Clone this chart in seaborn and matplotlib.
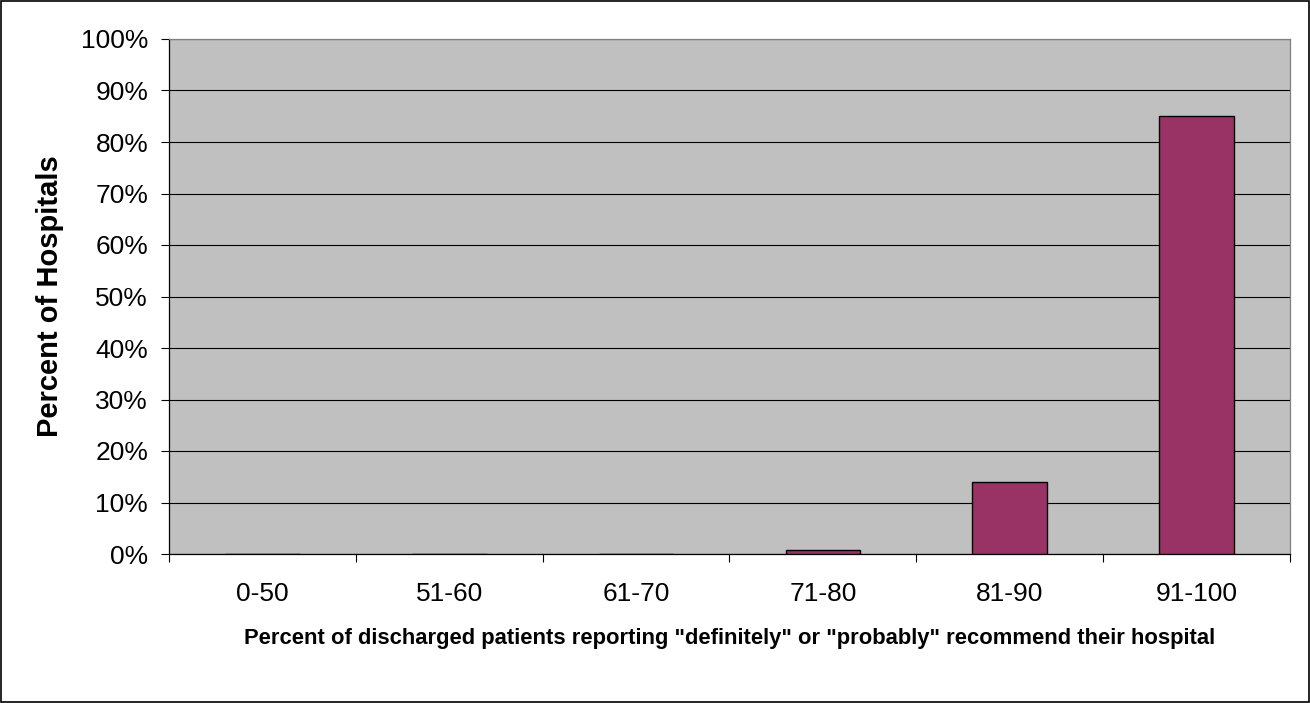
import pandas as pd
import numpy as np
import matplotlib.pyplot as plt
import matplotlib.ticker as mticker
import seaborn as sns

# --- data ---
categories = ['0-50', '51-60', '61-70', '71-80', '81-90', '91-100']
pct_hospitals = [0.0, 0.0, 0.0, 0.8, 14.0, 85.0]
y_ticks = [0, 10, 20, 30, 40, 50, 60, 70, 80, 90, 100]

df = pd.DataFrame({'Category': categories, 'Percent': pct_hospitals})

sns.set_theme(style="ticks")
plt.rcParams['font.family'] = ['Liberation Sans', 'DejaVu Sans']
plt.rcParams['text.color'] = 'black'
plt.rcParams['axes.labelcolor'] = 'black'
plt.rcParams['xtick.color'] = 'black'
plt.rcParams['ytick.color'] = 'black'

fig = plt.figure(figsize=(13.1, 7.03), dpi=100)
ax = fig.add_axes([169 / 1310, 1 - 554 / 703, (1290 - 169) / 1310, (554 - 39) / 703])
ax.set_facecolor('#C0C0C0')

sns.barplot(data=df, x='Category', y='Percent', color='#993366',
            saturation=1, width=0.4, edgecolor='black', linewidth=1.0, ax=ax, zorder=3)

# grid lines (Excel style, black)
ax.set_ylim(0, 100)
ax.set_xlim(-0.5, len(categories) - 0.5)
ax.set_yticks(y_ticks)
ax.yaxis.set_major_formatter(mticker.FuncFormatter(lambda v, p: f'{int(v)}%'))
ax.yaxis.grid(True, color='black', linewidth=0.8, zorder=1)
ax.set_axisbelow(True)

# x: labels centered, tick marks at category boundaries
ax.set_xticks(range(len(categories)))
ax.set_xticks(np.arange(-0.5, len(categories)), minor=True)
ax.tick_params(axis='x', which='major', length=0, pad=20, labelsize=19)
ax.tick_params(axis='x', which='minor', length=6, width=0.8, color='black', direction='out')
ax.tick_params(axis='y', which='major', length=6, width=0.8, color='black',
               direction='out', pad=9, labelsize=19)

for name, spine in ax.spines.items():
    spine.set_visible(True)
    spine.set_linewidth(0.9)
    spine.set_edgecolor('black' if name in ('left', 'bottom') else '#808080')

ax.set_xlabel('Percent of discharged patients reporting "definitely" or "probably" recommend their hospital',
              fontsize=15.8, fontweight='bold', labelpad=16)
ax.set_ylabel('Percent of Hospitals', fontsize=21, fontweight='bold', labelpad=12)

# outer chart border
fig.patches.append(plt.Rectangle((0.001, 0.001), 0.998, 0.997, transform=fig.transFigure,
                                 fill=False, edgecolor='black', linewidth=1.2))

fig.savefig('out.png', dpi=100)
